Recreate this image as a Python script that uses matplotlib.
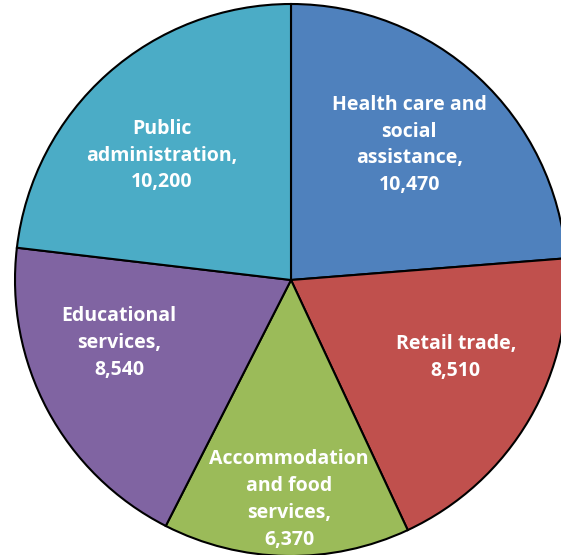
import numpy as np
import matplotlib.pyplot as plt

labels = ["Health care and\nsocial\nassistance,", "Retail trade,",
          "Accommodation\nand food\nservices,", "Educational\nservices,",
          "Public\nadministration,"]
values = [10470, 8510, 6370, 8540, 10200]
colors = ["#4F81BD", "#C0504D", "#9BBB59", "#8064A2", "#4BACC6"]

# label placement: (radius fraction, angle offset from wedge middle in degrees)
label_pos = [(0.65, 1.5), (0.66, 5.0), (0.795, 0.5), (0.664, -8.0), (0.65, 4.5)]

fig = plt.figure(figsize=(5.61, 5.55), dpi=100)
ax = fig.add_axes([15 / 561, -1 / 555, 552 / 561, 552 / 555])

wedges, _ = ax.pie(values, colors=colors, startangle=90, counterclock=False,
                   wedgeprops=dict(edgecolor='black', linewidth=1.5))
ax.set_xlim(-1, 1)
ax.set_ylim(-1, 1)
ax.axis('off')

for w, lab, v, (r, off) in zip(wedges, labels, values, label_pos):
    ang = np.deg2rad((w.theta1 + w.theta2) / 2 + off)
    ax.text(r * np.cos(ang), r * np.sin(ang), "{}\n{:,}".format(lab, v),
            ha='center', va='center', color='white', fontsize=14,
            fontweight='bold', family='Open Sans', linespacing=1.45)

plt.savefig("out.png", dpi=100)
